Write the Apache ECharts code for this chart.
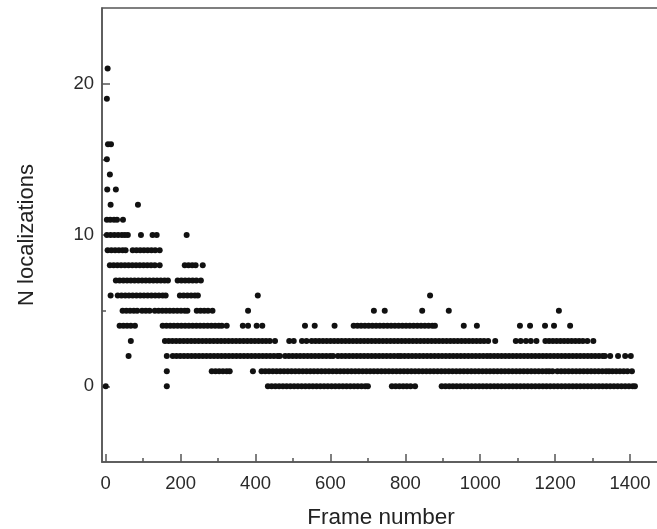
<!DOCTYPE html>
<html>
<head>
<meta charset="utf-8">
<script src="https://cdn.jsdelivr.net/npm/echarts@6/dist/echarts.min.js"></script>
<style>
html, body { margin: 0; padding: 0; background: #fff; }
#chart { width: 657px; height: 529px; }
</style>
</head>
<body>
<div id="chart"></div>
<script>
// frame numbers at which each localization count shows up
var n0 = [0, 163,
  433,443,453,463,473,483,493,503,513,523,533,543,553,563,573,583,593,603,613,623,633,643,653,663,673,683,693,700,
  764,774,784,794,804,814,826,
  897,907,917,927,937,947,957,967,977,987,997,1007,1017,1027,1037,1047,1057,1067,1077,1087,1097,1107,1117,1127,1137,1147,
  1157,1167,1177,1187,1197,1207,1217,1227,1237,1247,1257,1267,1277,1287,1297,1307,1317,1327,1337,1347,1357,1367,1377,1387,1397,1407,1413];
var n1 = [163,
  283,293,303,313,323,331,
  393,
  416,426,436,446,456,466,476,486,496,506,516,526,536,546,556,566,576,586,596,606,616,626,636,646,656,666,676,686,696,706,
  716,726,736,746,756,766,776,786,796,806,816,826,836,846,856,866,876,886,896,906,916,926,936,946,956,966,976,986,996,1006,
  1016,1026,1036,1046,1056,1066,1076,1086,1096,1106,1116,1126,1136,1146,1156,1166,1176,1184,
  1193,
  1206,1216,1226,1236,1246,1256,1266,1276,1286,1296,1306,1316,1326,1336,1344,
  1353,1363,1373,1383,1393,1405];
var n2 = [61, 163,
  179,189,199,209,219,229,239,249,259,269,279,289,299,309,319,329,339,349,359,369,379,389,399,409,419,429,439,449,459,465,
  479,489,499,509,519,529,539,549,559,569,579,589,599,607,
  620,630,640,650,660,670,680,690,700,710,720,730,740,750,760,770,780,
  788,798,808,818,828,838,848,858,868,878,888,898,908,918,928,938,948,958,968,978,988,998,1008,1018,
  1027,1037,1047,1057,1067,1077,1087,1097,1107,1117,1127,1137,1147,1157,1167,1177,1187,1197,1207,1217,1227,1237,1247,1257,
  1267,1277,1287,1297,1307,1317,1327,1333,
  1347,1368,1387,1402];
var n3 = [67,
  158,168,178,188,198,208,218,228,238,248,258,268,278,288,298,308,318,328,338,348,358,368,378,388,398,408,418,428,438,
  452,
  490,502,524,536,550,560,570,580,
  590,600,610,620,630,640,650,660,670,680,690,700,710,720,730,740,750,760,770,780,790,800,810,820,830,840,850,860,870,
  880,890,900,910,920,930,940,950,960,970,980,990,1000,1010,1021,
  1040,
  1095,1108,1122,1135,1150,
  1174,1184,1194,1204,1214,1224,1234,1244,1254,1264,1274,1286,
  1302];
var n4 = [37,47,57,67,78,
  152,162,172,182,192,202,212,222,232,242,252,262,272,282,292,302,310,
  323, 366, 380, 403, 418, 532, 558, 611,
  662,672,682,692,702,712,722,732,742,752,762,772,782,792,802,812,822,832,842,852,862,872,879,
  956, 991, 1106, 1133, 1173, 1197, 1240];
var n5 = [45,55,65,75,84, 97,107,117, 131,141,151,161,171,181,191,201,211,218, 243,253,263,273,285, 380, 716, 745, 845, 916, 1210];
var n6 = [13, 32,42,52,62,72,82,92,102,112,122,132,142,152,160, 198,208,218,228,238,246, 406, 866];
var n7 = [27,37,47,57,67,77,87,97,107,117,127,137,147,157,166, 192,202,212,222,232,242,254];
var n8 = [11,21,31,41,51,61,71,81,91,101,111,121,131,144, 211,221,231,240, 259];
var n9 = [5,15,25,35,45, 53, 72,82,92,102,112,122,132,144];
var n10 = [3,13,23,33,43,51,59, 94, 125,136, 216];
var n11 = [3,12,22,30, 46];
var n12 = [13, 86];
var n13 = [4, 27];
var n14 = [11];
var n15 = [3];
var n16 = [6, 14];
var n19 = [3];
var n21 = [5];

var xTicks = [0, 200, 400, 600, 800, 1000, 1200, 1400];
var xMinor = [100, 300, 500, 700, 900, 1100, 1300];
var yTicks = [0, 10, 20];
var yMinor = [5, 15];

var byCount = [[0, n0], [1, n1], [2, n2], [3, n3], [4, n4], [5, n5], [6, n6], [7, n7], [8, n8], [9, n9],
  [10, n10], [11, n11], [12, n12], [13, n13], [14, n14], [15, n15], [16, n16], [19, n19], [21, n21]];

var points = [];
byCount.forEach(function (p) {
  p[1].forEach(function (f) { points.push([f, p[0]]); });
});

var font = "'Liberation Sans', Arial, Helvetica, sans-serif";
var axisCol = '#555';
var plain = function (v) { return String(v); };

var chart = echarts.init(document.getElementById('chart'));
chart.setOption({
  backgroundColor: '#fff',
  animation: false,
  grid: {
    left: 102, right: -3, top: 8, bottom: 67,
    containLabel: false, outerBoundsMode: 'none',
    show: true, borderColor: axisCol, borderWidth: 1.5
  },
  xAxis: [{
    type: 'value', min: -10, max: 1480, position: 'bottom',
    name: 'Frame number', nameLocation: 'middle', nameGap: 44,
    nameTextStyle: { fontSize: 22.5, color: '#222', fontFamily: font },
    axisLine: { onZero: false, lineStyle: { color: axisCol, width: 1.5 } },
    axisTick: { inside: true, length: 8, customValues: xTicks, lineStyle: { color: axisCol, width: 1.5 } },
    axisLabel: { customValues: xTicks, formatter: plain, fontSize: 18.5, color: '#2a2a2a', margin: 12, fontFamily: font },
    splitLine: { show: false }
  }, {
    type: 'value', min: -10, max: 1480, position: 'bottom',
    axisLine: { show: false, onZero: false },
    axisTick: { inside: true, length: 4, customValues: xMinor, lineStyle: { color: axisCol, width: 1.5 } },
    axisLabel: { show: false },
    splitLine: { show: false }
  }],
  yAxis: [{
    type: 'value', min: -5, max: 25, position: 'left',
    name: 'N localizations', nameLocation: 'middle', nameGap: 64,
    nameTextStyle: { fontSize: 22, color: '#222', fontFamily: font },
    axisLine: { show: true, onZero: false, lineStyle: { color: axisCol, width: 1.5 } },
    axisTick: { show: true, inside: true, length: 8, customValues: yTicks, lineStyle: { color: axisCol, width: 1.5 } },
    axisLabel: { customValues: yTicks, formatter: plain, fontSize: 18.5, color: '#2a2a2a', margin: 8, fontFamily: font },
    splitLine: { show: false }
  }, {
    type: 'value', min: -5, max: 25, position: 'left',
    axisLine: { show: false, onZero: false },
    axisTick: { show: true, inside: true, length: 4, customValues: yMinor, lineStyle: { color: axisCol, width: 1.5 } },
    axisLabel: { show: false },
    splitLine: { show: false }
  }],
  series: [{
    type: 'scatter',
    xAxisIndex: 0,
    yAxisIndex: 0,
    data: points,
    symbol: 'circle',
    symbolSize: 6,
    silent: true,
    itemStyle: { color: '#111', opacity: 1 }
  }]
});
</script>
</body>
</html>
